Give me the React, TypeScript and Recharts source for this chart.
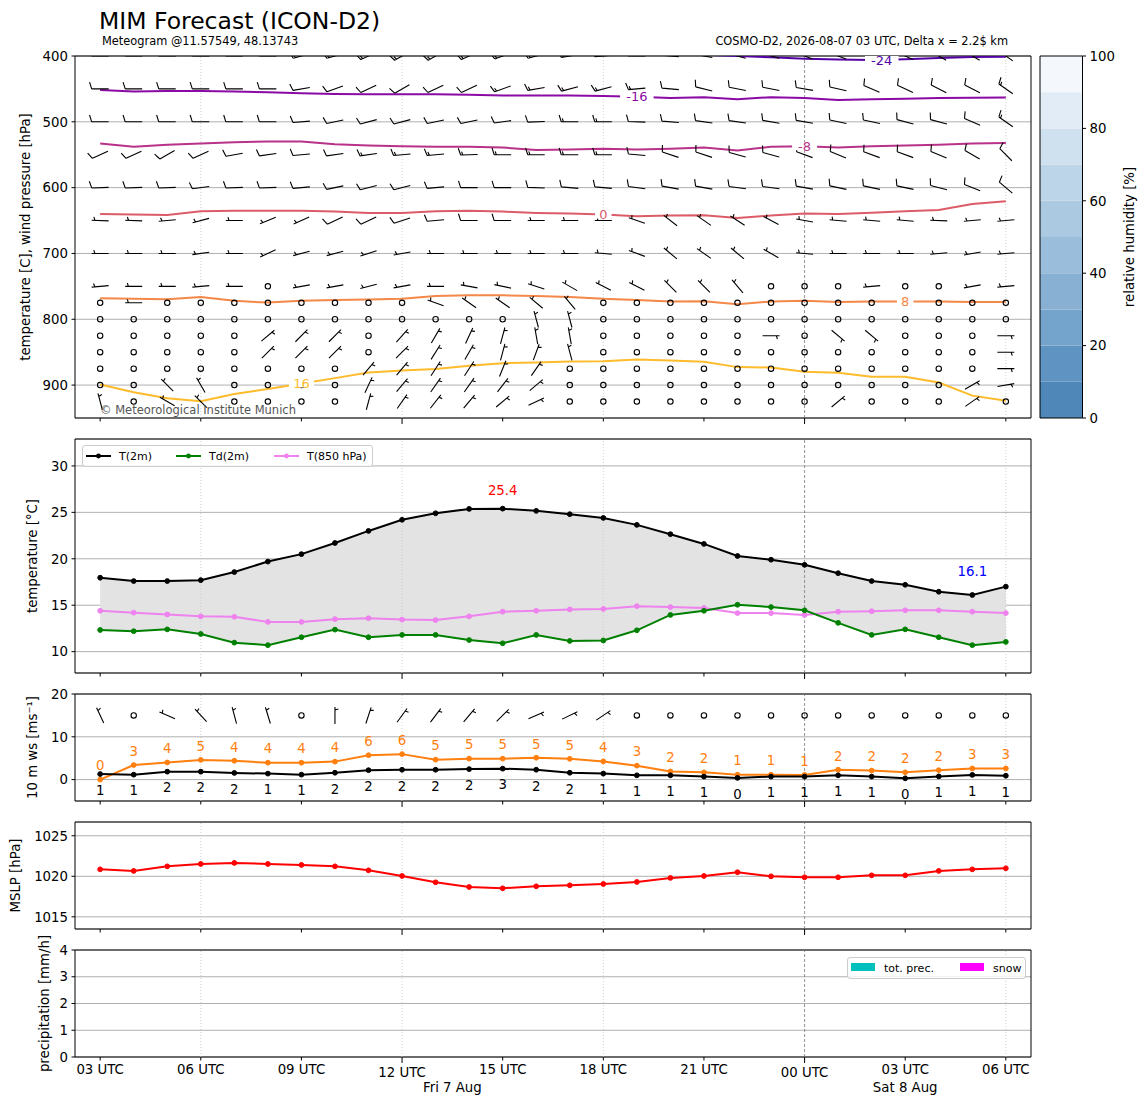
import React from 'react';
import {
  ComposedChart, Bar, Line, Area, Scatter, XAxis, YAxis, CartesianGrid,
  ReferenceLine, ReferenceArea, ReferenceDot, LabelList, Legend,
} from 'recharts';

const FONT = '"DejaVu Sans", Verdana, sans-serif';

// ---------------- time axis ----------------
const hours = [0, 1, 2, 3, 4, 5, 6, 7, 8, 9, 10, 11, 12, 13, 14, 15, 16, 17, 18, 19, 20, 21, 22, 23, 24, 25, 26, 27];
const xTicks = [0, 3, 6, 9, 12, 15, 18, 21, 24, 27];
const xTickLabels = ['03 UTC', '06 UTC', '09 UTC', '12 UTC', '15 UTC', '18 UTC', '21 UTC', '00 UTC', '03 UTC', '06 UTC'];
const majorTickHours = [9, 21];
const dateLabelHours = [10.5, 24];
const dateLabelTexts = ['Fri 7 Aug', 'Sat 8 Aug'];
const lightVLines = [3, 9, 15, 27];
const darkVLines = [21];
const X_DOMAIN = [-0.75, 27.75];

// ---------------- panel 1: isotherms (pressure of each isotherm, hPa) ----------------
const isoValues = [-24, -16, -8, 0, 8, 16];
const isoM24 = [null, null, null, null, null, null, null, null, null, null, null, null, null, null, null, null, null, 396, 398, 400, 402, 404, 405.5, 406, 405, 403, 401.5, 401];
const isoM16 = [451.5, 454, 453, 453, 454, 455, 456.6, 457.6, 458, 458, 458, 459, 460, 460, 460, 460.6, 462, 464, 462.6, 465.6, 462.6, 464, 466.7, 465.6, 465, 464, 463.6, 463];
const isoM8 = [533, 538, 535, 533, 531, 530, 530, 534, 536, 537, 538, 538, 539, 543, 542, 541, 542, 541, 539, 543.5, 538, 537, 539, 537, 536, 535, 533, 532];
const iso0 = [640, 641, 641.4, 636, 635, 635, 635, 636.4, 638.4, 638.4, 636, 635, 636.4, 638.4, 639.4, 641, 643.4, 642.4, 642, 646, 642.4, 639.4, 640, 638, 636, 634, 625, 620.7];
const iso8 = [768, 768.7, 769.7, 766, 772, 774.7, 772, 770.7, 770, 769, 764.6, 763.6, 763.6, 764.6, 766, 769, 770.7, 773, 772.7, 777, 773, 771.7, 773.7, 773, 773, 773, 773.7, 773.7];
const iso16 = [899, 911, 920, 924.7, 913.6, 906, 897.5, 889.4, 880.8, 878, 875.7, 870.7, 866.7, 865.6, 864, 863.6, 861, 862.6, 864.6, 872.7, 873.2, 879.8, 881.3, 887.4, 887.4, 896, 916, 923.7];
const isoSeries = [isoM24, isoM16, isoM8, iso0, iso8, iso16];
const isoColors = ['#5402a3', '#8b0aa5', '#b93289', '#db5c68', '#f48849', '#febb2b'];
const isoLabelHours = [23.3, 16, 21, 15, 24, 6];
const isoLabelPressures = [406, 462, 537, 641, 773, 897.5];

// ---------------- panel 1: wind barbs (direction deg, speed kt) ----------------
const barbLevels = [400, 450, 500, 550, 600, 650, 700, 750, 775, 800, 825, 850, 875, 900, 925];
const dir400 = [270, 270, 270, 270, 270, 270, 255, 255, 245, 240, 240, 245, 250, 255, 260, 265, 270, 275, 280, 285, 285, 290, 290, 295, 295, 300, 300, 305];
const spd400 = [15, 15, 15, 15, 15, 15, 15, 15, 15, 15, 15, 15, 15, 15, 15, 15, 15, 15, 15, 15, 15, 15, 15, 15, 15, 15, 15, 15];
const dir450 = [270, 270, 270, 270, 270, 270, 260, 250, 245, 240, 245, 245, 250, 260, 255, 255, 265, 275, 284, 281, 281, 280, 283, 293, 295, 297, 297, 305];
const spd450 = [10, 10, 10, 10, 10, 10, 10, 10, 10, 10, 10, 10, 15, 15, 15, 15, 15, 10, 10, 10, 10, 10, 10, 10, 10, 10, 10, 15];
const dir500 = [270, 270, 270, 270, 270, 270, 265, 258, 255, 255, 258, 258, 262, 268, 270, 270, 272, 275, 278, 278, 280, 280, 282, 282, 285, 285, 293, 305];
const spd500 = [10, 10, 10, 10, 10, 10, 10, 10, 10, 10, 10, 10, 10, 10, 15, 15, 10, 10, 10, 10, 10, 10, 10, 10, 10, 10, 10, 15];
const dir550 = [245, 245, 240, 245, 260, 262, 265, 262, 262, 265, 265, 268, 270, 270, 270, 270, 275, 288, 288, 285, 285, 290, 292, 290, 290, 292, 300, 315];
const spd550 = [10, 10, 10, 10, 10, 10, 10, 10, 15, 15, 15, 15, 15, 15, 15, 15, 10, 10, 10, 10, 10, 10, 10, 10, 10, 10, 10, 10];
const dir600 = [268, 268, 268, 262, 268, 268, 265, 258, 255, 255, 265, 270, 270, 272, 275, 275, 278, 280, 280, 278, 278, 280, 282, 282, 282, 285, 292, 310];
const spd600 = [10, 10, 10, 10, 10, 10, 10, 10, 10, 10, 10, 10, 10, 10, 10, 10, 10, 10, 10, 10, 10, 10, 10, 10, 10, 10, 10, 10];
const dir650 = [272, 272, 265, 255, 270, 248, 246, 245, 245, 252, 265, 270, 270, 270, 270, 270, 289, 308, 305, 303, 298, 280, 275, 275, 275, 272, 265, 265];
const spd650 = [5, 5, 5, 5, 5, 5, 5, 10, 10, 10, 10, 10, 10, 5, 5, 5, 5, 5, 5, 5, 5, 5, 5, 5, 5, 5, 5, 5];
const dir700 = [270, 270, 270, 262, 270, 245, 255, 255, 252, 260, 270, 270, 270, 270, 270, 275, 290, 310, 305, 310, 300, 275, 270, 270, 270, 265, 260, 265];
const spd700 = [5, 5, 5, 5, 5, 5, 5, 5, 5, 5, 5, 5, 5, 5, 5, 5, 5, 5, 5, 5, 5, 5, 5, 5, 5, 5, 5, 5];
const dir750 = [265, 270, 270, 265, 270, 0, 260, 260, 255, 260, 270, 280, 282, 288, 300, 297, 297, 315, 315, 320, 0, 0, 0, 265, 0, 0, 260, 265];
const spd750 = [5, 5, 5, 5, 5, 0, 5, 5, 5, 5, 5, 5, 5, 5, 5, 5, 5, 5, 5, 5, 0, 0, 0, 5, 0, 0, 5, 5];
const dir775 = [0, 270, 0, 0, 0, 0, 0, 0, 0, 0, 290, 305, 305, 310, 320, 0, 0, 0, 0, 0, 0, 0, 0, 0, 0, 0, 0, 0];
const spd775 = [0, 5, 0, 0, 0, 0, 0, 0, 0, 0, 5, 5, 5, 5, 5, 0, 0, 0, 0, 0, 0, 0, 0, 0, 0, 0, 0, 0];
const dir800 = [0, 0, 0, 0, 0, 0, 0, 0, 0, 0, 0, 0, 0, 345, 345, 0, 0, 0, 0, 0, 0, 0, 0, 0, 0, 0, 0, 0];
const spd800 = [0, 0, 0, 0, 0, 0, 0, 0, 0, 0, 0, 0, 0, 5, 5, 0, 0, 0, 0, 0, 0, 0, 0, 0, 0, 0, 0, 0];
const dir825 = [0, 0, 0, 0, 0, 50, 45, 45, 0, 42, 30, 25, 15, 350, 350, 0, 0, 0, 0, 0, 90, 0, 130, 130, 0, 0, 0, 90];
const spd825 = [0, 0, 0, 0, 0, 5, 5, 5, 0, 5, 5, 5, 5, 5, 5, 0, 0, 0, 0, 0, 5, 0, 5, 5, 0, 0, 0, 5];
const dir850 = [0, 0, 0, 0, 0, 45, 45, 45, 0, 45, 32, 30, 15, 20, 345, 0, 0, 0, 0, 0, 0, 0, 0, 0, 0, 0, 0, 90];
const spd850 = [0, 0, 0, 0, 0, 5, 5, 5, 0, 5, 5, 5, 5, 5, 5, 0, 0, 0, 0, 0, 0, 0, 0, 0, 0, 0, 0, 5];
const dir875 = [0, 0, 0, 0, 0, 0, 0, 0, 40, 40, 33, 33, 22, 35, 0, 0, 0, 0, 0, 0, 0, 0, 0, 0, 0, 0, 0, 90];
const spd875 = [0, 0, 0, 0, 0, 0, 0, 0, 5, 5, 5, 5, 5, 5, 0, 0, 0, 0, 0, 0, 0, 0, 0, 0, 0, 0, 0, 5];
const dir900 = [0, 0, 315, 330, 0, 0, 0, 0, 25, 40, 35, 35, 38, 50, 0, 0, 0, 0, 0, 0, 0, 0, 0, 0, 0, 0, 60, 80];
const spd900 = [0, 0, 5, 5, 0, 0, 0, 0, 5, 5, 5, 5, 5, 5, 0, 0, 0, 0, 0, 0, 0, 0, 0, 0, 0, 0, 5, 5];
const dir925 = [345, 0, 300, 315, 0, 0, 0, 0, 15, 35, 38, 40, 50, 65, 0, 0, 0, 0, 0, 0, 0, 0, 50, 0, 0, 0, 55, 0];
const spd925 = [5, 0, 5, 5, 0, 0, 0, 0, 5, 5, 5, 5, 5, 5, 0, 0, 0, 0, 0, 0, 0, 0, 5, 0, 0, 0, 5, 0];
const barbDirs = [dir400, dir450, dir500, dir550, dir600, dir650, dir700, dir750, dir775, dir800, dir825, dir850, dir875, dir900, dir925];
const barbSpds = [spd400, spd450, spd500, spd550, spd600, spd650, spd700, spd750, spd775, spd800, spd825, spd850, spd875, spd900, spd925];

// ---------------- panel 2: temperatures ----------------
const t2m = [17.96, 17.6, 17.6, 17.7, 18.57, 19.7, 20.5, 21.7, 23.0, 24.2, 24.9, 25.37, 25.4, 25.16, 24.8, 24.4, 23.65, 22.65, 21.6, 20.3, 19.9, 19.35, 18.45, 17.6, 17.2, 16.45, 16.1, 17.0];
const td2m = [12.33, 12.2, 12.4, 11.9, 10.97, 10.7, 11.55, 12.37, 11.55, 11.8, 11.8, 11.25, 10.9, 11.8, 11.15, 11.2, 12.3, 13.95, 14.4, 15.05, 14.8, 14.45, 13.1, 11.8, 12.4, 11.55, 10.7, 11.05];
const t850 = [14.4, 14.2, 14.0, 13.8, 13.75, 13.2, 13.2, 13.5, 13.6, 13.45, 13.4, 13.8, 14.3, 14.4, 14.55, 14.6, 14.9, 14.8, 14.7, 14.15, 14.15, 13.95, 14.3, 14.35, 14.45, 14.45, 14.3, 14.15];
const tempSeriesNames = ['T(2m)', 'Td(2m)', 'T(850 hPa)'];
const tempSeriesColors = ['#000000', '#008000', '#ee82ee'];

// ---------------- panel 3: 10 m wind (m/s) ----------------
const wsMean = [1.3, 1.15, 1.85, 1.85, 1.55, 1.4, 1.15, 1.6, 2.2, 2.3, 2.3, 2.45, 2.55, 2.3, 1.6, 1.4, 1.0, 1.0, 0.7, 0.4, 0.7, 0.7, 1.0, 0.7, 0.3, 0.75, 1.1, 0.9];
const wsGust = [0, 3.4, 4.0, 4.6, 4.4, 3.95, 3.95, 4.2, 5.7, 5.95, 4.65, 4.9, 4.9, 5.1, 4.85, 4.25, 3.25, 1.9, 1.7, 1.15, 1.15, 1.1, 2.3, 2.1, 1.7, 2.2, 2.6, 2.6];
const dir10 = [335, 0, 294, 317, 345, 343, 0, 360, 18, 36, 37, 40, 45, 66, 64, 56, 0, 0, 0, 0, 0, 0, 0, 0, 0, 0, 0, 0];
const BARB_ROW_10M = 15;

// ---------------- panel 4: MSLP ----------------
const mslp = [1020.86, 1020.66, 1021.23, 1021.52, 1021.65, 1021.52, 1021.4, 1021.23, 1020.74, 1020.04, 1019.26, 1018.68, 1018.52, 1018.77, 1018.89, 1019.05, 1019.3, 1019.8, 1020.04, 1020.5, 1020.0, 1019.88, 1019.88, 1020.12, 1020.12, 1020.66, 1020.86, 1020.99];

// ---------------- panel 5: precipitation ----------------
const precTotal = [0, 0, 0, 0, 0, 0, 0, 0, 0, 0, 0, 0, 0, 0, 0, 0, 0, 0, 0, 0, 0, 0, 0, 0, 0, 0, 0, 0];
const precSnow = [0, 0, 0, 0, 0, 0, 0, 0, 0, 0, 0, 0, 0, 0, 0, 0, 0, 0, 0, 0, 0, 0, 0, 0, 0, 0, 0, 0];
const precNames = ['tot. prec.', 'snow'];
const precColors = ['#00bfbf', '#ff00ff'];

// ---------------- colorbar ----------------
const rhLevels = [0, 10, 20, 30, 40, 50, 60, 70, 80, 90, 100];
const rhColors = ['#4f87b9', '#5f94c2', '#74a4cb', '#87b0d3', '#99bdda', '#abc9e1', '#bdd5e8', '#cfe0ef', '#e2ecf6', '#f4f8fc'];
const rhTicks = [0, 20, 40, 60, 80, 100];

// ---------------- built tables ----------------
const p1Data = hours.map((t, i) => {
  const row: any = { t };
  isoSeries.forEach((s, k) => { row['iso' + k] = s[i]; });
  return row;
});
const barbPoints = barbLevels.flatMap((p, li) => hours.map((t, i) => ({ t, p, d: barbDirs[li][i], s: barbSpds[li][i] })));
const isoLabelPoints = isoValues.map((v, k) => ({ t: isoLabelHours[k], p: isoLabelPressures[k], k, text: String(v) }));
const p2Data = hours.map((t, i) => ({ t, t2m: t2m[i], td: td2m[i], t850: t850[i] }));
const p3Data = hours.map((t, i) => ({ t, ws: wsMean[i], gust: wsGust[i] }));
const wind10Points = hours.map((t, i) => ({ t, y: BARB_ROW_10M, d: dir10[i], s: Math.round((wsMean[i] * 1.944) / 5) * 5 }));
const p4Data = hours.map((t, i) => ({ t, mslp: mslp[i] }));
const p5Data = hours.map((t, i) => ({ t, tot: precTotal[i], snow: precSnow[i] }));
const rhBands = rhColors.map((c, i) => ({ lo: rhLevels[i], hi: rhLevels[i + 1], c }));
const cbData = [{ x: 0 }, { x: 1 }];

const tMax = Math.max(...t2m);
const tMaxHour = hours[t2m.indexOf(tMax)];
const tMin = Math.min(...t2m);
const tMinHour = hours[t2m.indexOf(tMin)];

// ---------------- geometry ----------------
const CHART_W = 1148;
const Y_AXIS_W = 60;
const MARGIN = { top: 8, right: 117, bottom: 0, left: 15 };

// ---------------- glyphs ----------------
const BARB_L = 17;
function BarbGlyph({ cx, cy, dir, spd }: any) {
  if (spd < 2.5) {
    return <circle cx={cx} cy={cy} r={2.7} fill="none" stroke="#000" strokeWidth={1.1} />;
  }
  const a = (dir * Math.PI) / 180;
  const sx = Math.sin(a);
  const sy = -Math.cos(a);
  const bx = -sy;
  const by = sx;
  const L = BARB_L;
  const H = 0.4 * L;
  const W = 0.25 * L;
  const SP = 0.125 * L;
  const tx = cx - (sx * L) / 2;
  const ty = cy - (sy * L) / 2;
  let d = `M${tx},${ty}L${tx + sx * L},${ty + sy * L}`;
  const rounded = Math.round(spd / 5) * 5;
  const nFull = Math.floor(rounded / 10);
  const half = rounded % 10 >= 5;
  let off = L;
  for (let i = 0; i < nFull; i++) {
    const px = tx + sx * off;
    const py = ty + sy * off;
    d += `M${px},${py}L${px + bx * H + (sx * W) / 2},${py + by * H + (sy * W) / 2}`;
    off -= SP;
  }
  if (half) {
    if (off === L) off -= 1.5 * SP;
    const px = tx + sx * off;
    const py = ty + sy * off;
    d += `M${px},${py}L${px + (bx * H) / 2 + (sx * W) / 4},${py + (by * H) / 2 + (sy * W) / 4}`;
  }
  return <path d={d} stroke="#000" strokeWidth={1.1} fill="none" strokeLinecap="butt" />;
}

const renderBarb = (props: any) => {
  const { cx, cy, payload } = props;
  if (cx == null || cy == null || !payload) return <g />;
  return <BarbGlyph cx={cx} cy={cy} dir={payload.d} spd={payload.s} />;
};

const renderIsoLabel = (props: any) => {
  const { cx, cy, payload } = props;
  if (cx == null || cy == null || !payload) return <g />;
  const w = payload.text.length * 8.5 + 8;
  return (
    <g>
      <rect x={cx - w / 2} y={cy - 4} width={w} height={8} fill="#ffffff" />
      <text x={cx} y={cy} dy="0.36em" textAnchor="middle" fontSize={13} fontFamily={FONT} fill={isoColors[payload.k]}>
        {payload.text}
      </text>
    </g>
  );
};

function XTick(props: any) {
  const { x, y, payload, showLabel } = props;
  const idx = xTicks.indexOf(payload.value);
  const major = majorTickHours.includes(payload.value);
  const len = major ? 6 : 3.5;
  return (
    <g>
      <line x1={x} x2={x} y1={y} y2={y + len} stroke="#000" strokeWidth={1} />
      {showLabel && (
        <text x={x} y={y + (major ? 20 : 17)} textAnchor="middle" fontSize={13.3} fontFamily={FONT} fill="#000">
          {xTickLabels[idx]}
        </text>
      )}
    </g>
  );
}

const xAxisEl = (showLabels: boolean, height: number) => (
  <XAxis
    dataKey="t"
    type="number"
    domain={X_DOMAIN}
    ticks={xTicks}
    interval={0}
    allowDataOverflow
    axisLine={false}
    tickLine={false}
    tickSize={0}
    tickMargin={0}
    height={height}
    tick={(p: any) => <XTick {...p} showLabel={showLabels} />}
  />
);

const yAxisEl = (domain: number[], ticks: number[], label: string, labelOffset: number, reversed = false) => (
  <YAxis
    type="number"
    domain={domain}
    ticks={ticks}
    interval={0}
    allowDataOverflow
    reversed={reversed}
    width={Y_AXIS_W}
    axisLine={false}
    tickSize={3.5}
    tickMargin={3.5}
    tickLine={{ stroke: '#000', strokeWidth: 1 }}
    tick={{ fill: '#000', fontSize: 13.3, fontFamily: FONT }}
    label={{
      value: label,
      angle: -90,
      position: 'insideLeft',
      offset: labelOffset,
      style: { textAnchor: 'middle', fill: '#000', fontSize: 13.3, fontFamily: FONT },
    }}
  />
);

const vLines = () => [
  ...lightVLines.map((v) => (
    <ReferenceLine key={'l' + v} x={v} stroke="#c4c4c4" strokeDasharray="1 2" strokeWidth={0.8} />
  )),
  ...darkVLines.map((v) => (
    <ReferenceLine key={'d' + v} x={v} stroke="#7a7a7a" strokeDasharray="3 2" strokeWidth={0.8} />
  )),
];

const frame = (y1: number, y2: number) => (
  <ReferenceArea x1={X_DOMAIN[0]} x2={X_DOMAIN[1]} y1={y1} y2={y2} fill="none" fillOpacity={0} stroke="#000" strokeWidth={1} ifOverflow="visible" />
);

const lineCommon = { type: 'linear' as const, isAnimationActive: false, activeDot: false, strokeWidth: 2 };
const dotStyle = (c: string) => ({ r: 2.4, fill: c, stroke: c, strokeWidth: 1 });

function TempLegend() {
  const xs = [3, 93, 191];
  return (
    <div style={{ width: 291, height: 22, boxSizing: 'border-box', border: '1px solid #cccccc', borderRadius: 3, background: 'rgba(255,255,255,0.8)' }}>
      <svg width={289} height={20} style={{ display: 'block' }}>
        {tempSeriesNames.map((n, i) => (
          <g key={n}>
            <line x1={xs[i]} x2={xs[i] + 25} y1={10} y2={10} stroke={tempSeriesColors[i]} strokeWidth={2} />
            <circle cx={xs[i] + 12.5} cy={10} r={2.4} fill={tempSeriesColors[i]} />
            <text x={xs[i] + 33} y={14} fontSize={11} fontFamily={FONT} fill="#000">{n}</text>
          </g>
        ))}
      </svg>
    </div>
  );
}

function PrecLegend() {
  const xs = [3, 112];
  return (
    <div style={{ width: 179, height: 22, boxSizing: 'border-box', border: '1px solid #cccccc', borderRadius: 3, background: 'rgba(255,255,255,0.8)' }}>
      <svg width={177} height={20} style={{ display: 'block' }}>
        {precNames.map((n, i) => (
          <g key={n}>
            <rect x={xs[i]} y={5} width={24} height={8} fill={precColors[i]} />
            <text x={xs[i] + 33} y={14} fontSize={11} fontFamily={FONT} fill="#000">{n}</text>
          </g>
        ))}
      </svg>
    </div>
  );
}

export default function App() {
  return (
    <div style={{ position: 'absolute', left: 0, top: 0, width: 1148, height: 1105, background: '#fff', fontFamily: FONT }}>
      {/* Panel 1: isotherms + wind barbs */}
      <div style={{ position: 'absolute', left: 0, top: 48 }}>
        <ComposedChart width={CHART_W} height={382} data={p1Data} margin={MARGIN}>
          <CartesianGrid vertical={false} stroke="#b0b0b0" strokeWidth={1} />
          {vLines()}
          {xAxisEl(false, 12)}
          {yAxisEl([400, 950], [400, 500, 600, 700, 800, 900], 'temperature [C], wind pressure [hPa]', 10, true)}
          <Scatter data={barbPoints} dataKey="p" shape={renderBarb} isAnimationActive={false} />
          {isoValues.map((v, k) => (
            <Line key={'iso' + k} dataKey={'iso' + k} stroke={isoColors[k]} dot={false} connectNulls={false} {...lineCommon} />
          ))}
          <Scatter data={isoLabelPoints} dataKey="p" shape={renderIsoLabel} isAnimationActive={false} />
          {frame(400, 950)}
        </ComposedChart>
      </div>

      {/* Colorbar */}
      <div style={{ position: 'absolute', left: 1000, top: 48 }}>
        <ComposedChart width={148} height={378} data={cbData} margin={{ top: 8, right: 0, bottom: 8, left: 40 }}>
          <XAxis dataKey="x" type="number" domain={[0, 1]} hide allowDataOverflow />
          <YAxis
            orientation="right"
            type="number"
            domain={[0, 100]}
            ticks={rhTicks}
            interval={0}
            allowDataOverflow
            width={65.5}
            axisLine={false}
            tickSize={3.5}
            tickMargin={3.5}
            tickLine={{ stroke: '#000', strokeWidth: 1 }}
            tick={{ fill: '#000', fontSize: 13.3, fontFamily: FONT }}
            label={{
              value: 'relative humidity [%]',
              angle: -90,
              position: 'insideRight',
              offset: 19,
              style: { textAnchor: 'middle', fill: '#000', fontSize: 13.3, fontFamily: FONT },
            }}
          />
          {rhBands.map((b, i) => (
            <ReferenceArea key={'rh' + i} x1={0} x2={1} y1={b.lo} y2={b.hi} fill={b.c} fillOpacity={1} stroke="none" ifOverflow="visible" />
          ))}
          <ReferenceArea x1={0} x2={1} y1={0} y2={100} fill="none" fillOpacity={0} stroke="#000" strokeWidth={1} ifOverflow="visible" />
        </ComposedChart>
      </div>

      {/* Panel 2: temperatures */}
      <div style={{ position: 'absolute', left: 0, top: 431 }}>
        <ComposedChart width={CHART_W} height={254} data={p2Data} margin={MARGIN}>
          <CartesianGrid vertical={false} stroke="#b0b0b0" strokeWidth={1} />
          {vLines()}
          {xAxisEl(false, 12)}
          {yAxisEl([7.7, 32.9], [10, 15, 20, 25, 30], 'temperature [°C]', 17)}
          <Area
            dataKey={(d: any) => [d.td, d.t2m]}
            type="linear"
            fill="#e3e3e3"
            fillOpacity={1}
            stroke="none"
            dot={false}
            activeDot={false}
            isAnimationActive={false}
          />
          <Line dataKey="t850" stroke={tempSeriesColors[2]} dot={dotStyle(tempSeriesColors[2])} {...lineCommon} />
          <Line dataKey="td" stroke={tempSeriesColors[1]} dot={dotStyle(tempSeriesColors[1])} {...lineCommon} />
          <Line dataKey="t2m" stroke={tempSeriesColors[0]} dot={dotStyle(tempSeriesColors[0])} {...lineCommon} />
          <ReferenceDot
            x={tMaxHour}
            y={tMax}
            r={0}
            shape={(p: any) => (
              <text x={p.cx} y={p.cy - 18} dy="0.36em" textAnchor="middle" fontSize={13.3} fontFamily={FONT} fill="#ff0000">
                {tMax.toFixed(1)}
              </text>
            )}
          />
          <ReferenceDot
            x={tMinHour}
            y={tMin}
            r={0}
            shape={(p: any) => (
              <text x={p.cx} y={p.cy - 24} dy="0.36em" textAnchor="middle" fontSize={13.3} fontFamily={FONT} fill="#0000ff">
                {tMin.toFixed(1)}
              </text>
            )}
          />
          <Legend
            layout="horizontal"
            verticalAlign="middle"
            align="center"
            content={() => <TempLegend />}
            wrapperStyle={{ left: 82, top: 14, width: 291, height: 22 }}
          />
          {frame(7.7, 32.9)}
        </ComposedChart>
      </div>

      {/* Panel 3: 10 m wind */}
      <div style={{ position: 'absolute', left: 0, top: 686 }}>
        <ComposedChart width={CHART_W} height={127} data={p3Data} margin={MARGIN}>
          <CartesianGrid vertical={false} stroke="#b0b0b0" strokeWidth={1} />
          {vLines()}
          {xAxisEl(false, 12)}
          {yAxisEl([-5, 20], [0, 10, 20], '10 m ws [ms⁻¹]', 17)}
          <Line dataKey="gust" stroke="#ff7f0e" dot={dotStyle('#ff7f0e')} {...lineCommon}>
            <LabelList
              dataKey="gust"
              content={(p: any) => (
                <text x={p.x} y={p.y - 14} dy="0.36em" textAnchor="middle" fontSize={13.3} fontFamily={FONT} fill="#ff7f0e">
                  {Math.round(p.value)}
                </text>
              )}
            />
          </Line>
          <Line dataKey="ws" stroke="#000" dot={dotStyle('#000')} {...lineCommon}>
            <LabelList
              dataKey="ws"
              content={(p: any) => (
                <text x={p.x} y={p.y + 16} dy="0.36em" textAnchor="middle" fontSize={13.3} fontFamily={FONT} fill="#000">
                  {Math.round(p.value)}
                </text>
              )}
            />
          </Line>
          <Scatter data={wind10Points} dataKey="y" shape={renderBarb} isAnimationActive={false} />
          {frame(-5, 20)}
        </ComposedChart>
      </div>

      {/* Panel 4: MSLP */}
      <div style={{ position: 'absolute', left: 0, top: 814 }}>
        <ComposedChart width={CHART_W} height={127} data={p4Data} margin={MARGIN}>
          <CartesianGrid vertical={false} stroke="#b0b0b0" strokeWidth={1} />
          {vLines()}
          {xAxisEl(false, 12)}
          {yAxisEl([1013.5, 1026.7], [1015, 1020, 1025], 'MSLP [hPa]', 0)}
          <Line dataKey="mslp" stroke="#ff0000" dot={dotStyle('#ff0000')} {...lineCommon} />
          {frame(1013.5, 1026.7)}
        </ComposedChart>
      </div>

      {/* Panel 5: precipitation */}
      <div style={{ position: 'absolute', left: 0, top: 920 }}>
        <ComposedChart width={CHART_W} height={185} data={p5Data} margin={{ ...MARGIN, top: 30 }}>
          <CartesianGrid vertical={false} stroke="#b0b0b0" strokeWidth={1} />
          {vLines()}
          {xAxisEl(true, 48)}
          {yAxisEl([0, 4], [0, 1, 2, 3, 4], 'precipitation [mm/h]', 29)}
          <Bar dataKey="tot" fill={precColors[0]} isAnimationActive={false} />
          <Bar dataKey="snow" fill={precColors[1]} isAnimationActive={false} />
          {dateLabelHours.map((h, i) => (
            <ReferenceDot
              key={'date' + i}
              x={h}
              y={0}
              r={0}
              ifOverflow="visible"
              shape={(p: any) => (
                <text x={p.cx} y={p.cy + 35} textAnchor="middle" fontSize={13.3} fontFamily={FONT} fill="#000">
                  {dateLabelTexts[i]}
                </text>
              )}
            />
          ))}
          <Legend
            layout="horizontal"
            verticalAlign="middle"
            align="center"
            content={() => <PrecLegend />}
            wrapperStyle={{ left: 847, top: 37, width: 179, height: 22 }}
          />
          {frame(0, 4)}
        </ComposedChart>
      </div>

      {/* Titles and notes */}
      <svg width={1148} height={1105} style={{ position: 'absolute', left: 0, top: 0, pointerEvents: 'none' }}>
        <text x={99} y={28.5} fontSize={23.5} fontFamily={FONT} fill="#000">MIM Forecast (ICON-D2)</text>
        <text x={102} y={45} fontSize={11.4} fontFamily={FONT} fill="#000">Meteogram @11.57549, 48.13743</text>
        <text x={1008} y={45} fontSize={11.4} fontFamily={FONT} fill="#000" textAnchor="end">
          COSMO-D2, 2026-08-07 03 UTC, Delta x = 2.2$ km
        </text>
        <text x={100} y={414} fontSize={11.5} fontFamily={FONT} fill="#555555">© Meteorological Institute Munich</text>
      </svg>
    </div>
  );
}
